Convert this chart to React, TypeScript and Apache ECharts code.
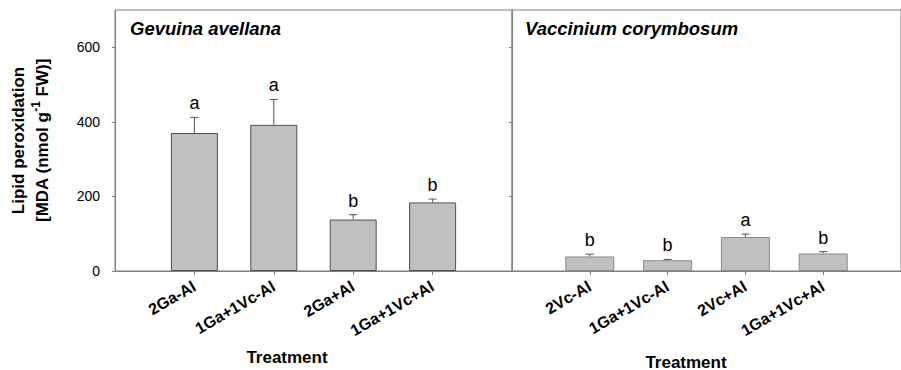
import React, { useEffect, useRef } from 'react';
import * as echarts from 'echarts';

const gaCategories = ['2Ga-Al', '1Ga+1Vc-Al', '2Ga+Al', '1Ga+1Vc+Al'];
const gaMeans = [370, 392, 138, 184];
const gaErrors = [42, 68, 13, 9];
const gaLetters = ['a', 'a', 'b', 'b'];

const vcCategories = ['2Vc-Al', '1Ga+1Vc-Al', '2Vc+Al', '1Ga+1Vc+Al'];
const vcMeans = [39, 29, 91, 47];
const vcErrors = [6, 2, 8, 5];
const vcLetters = ['b', 'b', 'a', 'b'];

const yTicks = [0, 200, 400, 600];
const panelTitles = ['Gevuina avellana', 'Vaccinium corymbosum'];
const xAxisTitle = 'Treatment';

const FONT = '"Liberation Sans", Arial, Helvetica, sans-serif';
const AXIS_COLOR = '#808080';

function pad<T>(arr: T[], empty: T): T[] {
  return [empty, ...arr, empty];
}

export default function App() {
  const ref = useRef<HTMLDivElement>(null);

  useEffect(() => {
    if (!ref.current) return;
    const chart = echarts.init(ref.current, null, { renderer: 'svg' });

    const panels = [
      { cats: gaCategories, means: gaMeans, errs: gaErrors, letters: gaLetters, barWidth: 47, border: '#505050' },
      { cats: vcCategories, means: vcMeans, errs: vcErrors, letters: vcLetters, barWidth: 49, border: '#8a8a8a' },
    ];

    const tickShown = (idx: number) => idx > 0 && idx < 5;

    const xAxes = panels.map((p, i) => ({
      type: 'category',
      gridIndex: i,
      data: pad(p.cats, ''),
      boundaryGap: false,
      axisLine: { show: true, lineStyle: { color: AXIS_COLOR, width: 1 } },
      axisTick: { show: true, interval: tickShown, length: 4, lineStyle: { color: AXIS_COLOR } },
      axisLabel: {
        interval: tickShown,
        rotate: 30,
        margin: 14,
        fontSize: 16,
        fontWeight: 'bold',
        color: '#000',
        fontFamily: FONT,
      },
      splitLine: { show: false },
    }));

    const yAxes = panels.map((p, i) => ({
      type: 'value',
      gridIndex: i,
      min: 0,
      max: 700,
      interval: 200,
      axisLine: { show: true, lineStyle: { color: AXIS_COLOR, width: 1 } },
      axisTick: { show: true, length: 3, customValues: yTicks, lineStyle: { color: AXIS_COLOR } },
      axisLabel: {
        show: i === 0,
        customValues: yTicks,
        fontSize: 14,
        color: '#000',
        margin: 15,
        fontFamily: FONT,
      },
      splitLine: { show: false },
      name: i === 0 ? '{b|Lipid peroxidation}\n{b|[MDA (nmol g}{sup|-1}{b| FW)]}' : '',
      nameLocation: 'middle',
      nameRotate: 90,
      nameGap: 61,
      nameTextStyle: {
        rich: {
          b: { fontSize: 17, fontWeight: 'bold', lineHeight: 24, fontFamily: FONT, color: '#000' },
          sup: { fontSize: 12, fontWeight: 'bold', lineHeight: 12, verticalAlign: 'top', fontFamily: FONT, color: '#000' },
        },
      },
    }));

    const series: any[] = [];
    panels.forEach((p, i) => {
      series.push({
        type: 'bar',
        xAxisIndex: i,
        yAxisIndex: i,
        data: pad(p.means as any[], '-'),
        barWidth: p.barWidth,
        itemStyle: { color: '#c0c0c0', borderColor: p.border, borderWidth: 1 },
        z: 2,
      });
      series.push({
        type: 'custom',
        xAxisIndex: i,
        yAxisIndex: i,
        encode: { x: 0, y: 1 },
        z: 3,
        data: p.means.map((m, k) => [k + 1, m, p.errs[k]]),
        renderItem: (params: any, api: any) => {
          const idx = api.value(0);
          const mean = api.value(1);
          const err = api.value(2);
          const base = api.coord([idx, mean]);
          const top = api.coord([idx, mean + err]);
          const letter = p.letters[params.dataIndex];
          const stroke = { stroke: '#555555', lineWidth: 1 };
          return {
            type: 'group',
            children: [
              { type: 'line', shape: { x1: base[0], y1: base[1], x2: top[0], y2: top[1] }, style: stroke },
              { type: 'line', shape: { x1: top[0] - 4, y1: top[1], x2: top[0] + 4, y2: top[1] }, style: stroke },
              {
                type: 'text',
                x: top[0],
                y: top[1] - 14,
                style: {
                  text: letter,
                  fontSize: 18,
                  fill: '#000',
                  align: 'center',
                  verticalAlign: 'middle',
                  fontFamily: FONT,
                },
              },
            ],
          };
        },
      });
    });

    const titleStyle = { fontSize: 18.5, fontWeight: 'bold', fontStyle: 'italic', fill: '#000', fontFamily: FONT };

    const option: any = {
      animation: false,
      backgroundColor: '#ffffff',
      grid: [
        { left: 115, top: 10, width: 397, bottom: 99, show: true, borderColor: AXIS_COLOR, borderWidth: 1, containLabel: false },
        { left: 512, top: 10, width: 400, bottom: 99, show: true, borderColor: AXIS_COLOR, borderWidth: 1, containLabel: false },
      ],
      xAxis: xAxes,
      yAxis: yAxes,
      series,
      graphic: [
        { type: 'text', left: 130, top: 19, style: { text: panelTitles[0], ...titleStyle } },
        { type: 'text', left: 525, top: 19, style: { text: panelTitles[1], ...titleStyle } },
        {
          type: 'text',
          x: 287,
          y: 357,
          style: { text: xAxisTitle, fontSize: 17, fontWeight: 'bold', fill: '#000', align: 'center', verticalAlign: 'middle', fontFamily: FONT },
        },
        {
          type: 'text',
          x: 686,
          y: 362,
          style: { text: xAxisTitle, fontSize: 17, fontWeight: 'bold', fill: '#000', align: 'center', verticalAlign: 'middle', fontFamily: FONT },
        },
      ],
    };

    chart.setOption(option);
    return () => chart.dispose();
  }, []);

  return <div ref={ref} style={{ position: 'absolute', left: 0, top: 0, width: 901, height: 370 }} />;
}
